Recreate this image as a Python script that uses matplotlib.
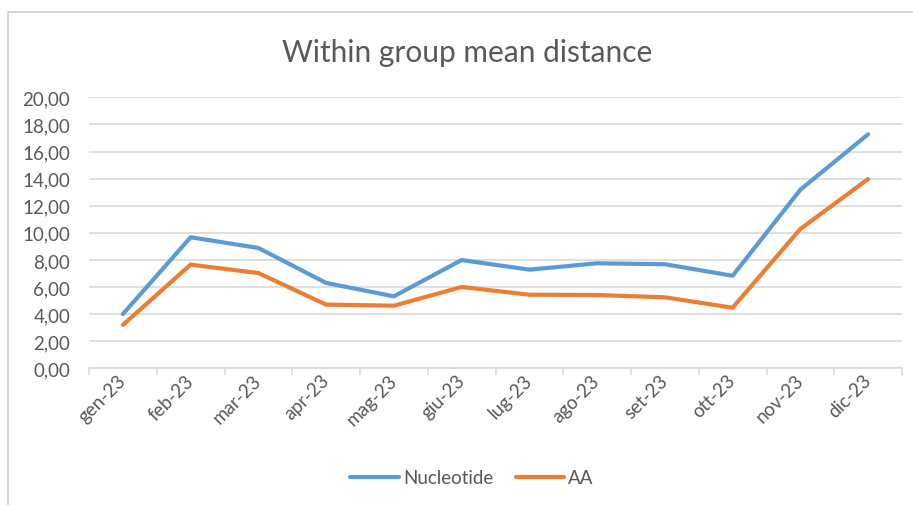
import matplotlib
matplotlib.use("Agg")
import matplotlib.pyplot as plt
from matplotlib.patches import Rectangle
from matplotlib.ticker import FixedLocator, FuncFormatter
from matplotlib.transforms import ScaledTranslation

plt.rcParams['font.family'] = ['Lato', 'DejaVu Sans']

months = ["gen-23", "feb-23", "mar-23", "apr-23", "mag-23", "giu-23",
          "lug-23", "ago-23", "set-23", "ott-23", "nov-23", "dic-23"]
nucleotide = [4.00, 9.67, 8.88, 6.30, 5.31, 7.99, 7.28, 7.75, 7.68, 6.83, 13.18, 17.27]
aa = [3.20, 7.65, 7.03, 4.70, 4.62, 6.00, 5.43, 5.41, 5.24, 4.47, 10.28, 13.97]
y_ticks = [0, 2, 4, 6, 8, 10, 12, 14, 16, 18, 20]

W, H = 913, 506
fig = plt.figure(figsize=(W / 100, H / 100), dpi=100)

# light chart-area frame
fig.patches.append(Rectangle((8 / W, -0.1), 1.2, 1.1 - 13 / H, transform=fig.transFigure,
                             fill=False, edgecolor="#d0d0d0", linewidth=1.2))

ax = fig.add_axes([89 / W, 1 - 369.3 / H, (902 - 89) / W, (369.3 - 98.3) / H])
x = list(range(len(months)))
ax.plot(x, nucleotide, color="#5B9BD5", linewidth=3.0, label="Nucleotide",
        solid_capstyle="round", solid_joinstyle="round")
ax.plot(x, aa, color="#ED7D31", linewidth=3.0, label="AA",
        solid_capstyle="round", solid_joinstyle="round")

ax.set_xlim(-0.5, len(months) - 0.5)
ax.set_ylim(0, 20)
ax.set_yticks(y_ticks)
ax.yaxis.set_major_formatter(FuncFormatter(lambda v, p: f"{v:.2f}".replace(".", ",")))
ax.grid(axis="y", color="#d9d9d9", linewidth=1.2)
ax.set_axisbelow(True)
for s in ["top", "right", "left"]:
    ax.spines[s].set_visible(False)
ax.spines["bottom"].set_color("#d9d9d9")
ax.spines["bottom"].set_linewidth(1.2)

ax.set_xticks(x)
ax.set_xticklabels(months, rotation=45, ha="right", va="center", rotation_mode="anchor")
shift = ScaledTranslation(13 / 100, 0, fig.dpi_scale_trans)
for lbl in ax.get_xticklabels():
    lbl.set_transform(lbl.get_transform() + shift)
ax.tick_params(axis="x", which="major", length=0, pad=6.5, labelsize=13.5, labelcolor="#595959")
ax.xaxis.set_minor_locator(FixedLocator([i - 0.5 for i in range(len(months) + 1)]))
ax.tick_params(axis="x", which="minor", length=5, color="#d9d9d9", width=1.2)
ax.tick_params(axis="y", length=0, pad=13.5, labelsize=13.5, labelcolor="#595959")

fig.text(467 / W, 1 - 53 / H, "Within group mean distance", ha="center", va="center",
         fontsize=21.5, color="#595959")

fig.legend(loc="center", bbox_to_anchor=(472 / W, 1 - 479 / H), ncol=2, frameon=False,
           fontsize=13.5, labelcolor="#595959", handlelength=2.6, handletextpad=0.2,
           columnspacing=1.2)

fig.savefig("out.png", dpi=100)
